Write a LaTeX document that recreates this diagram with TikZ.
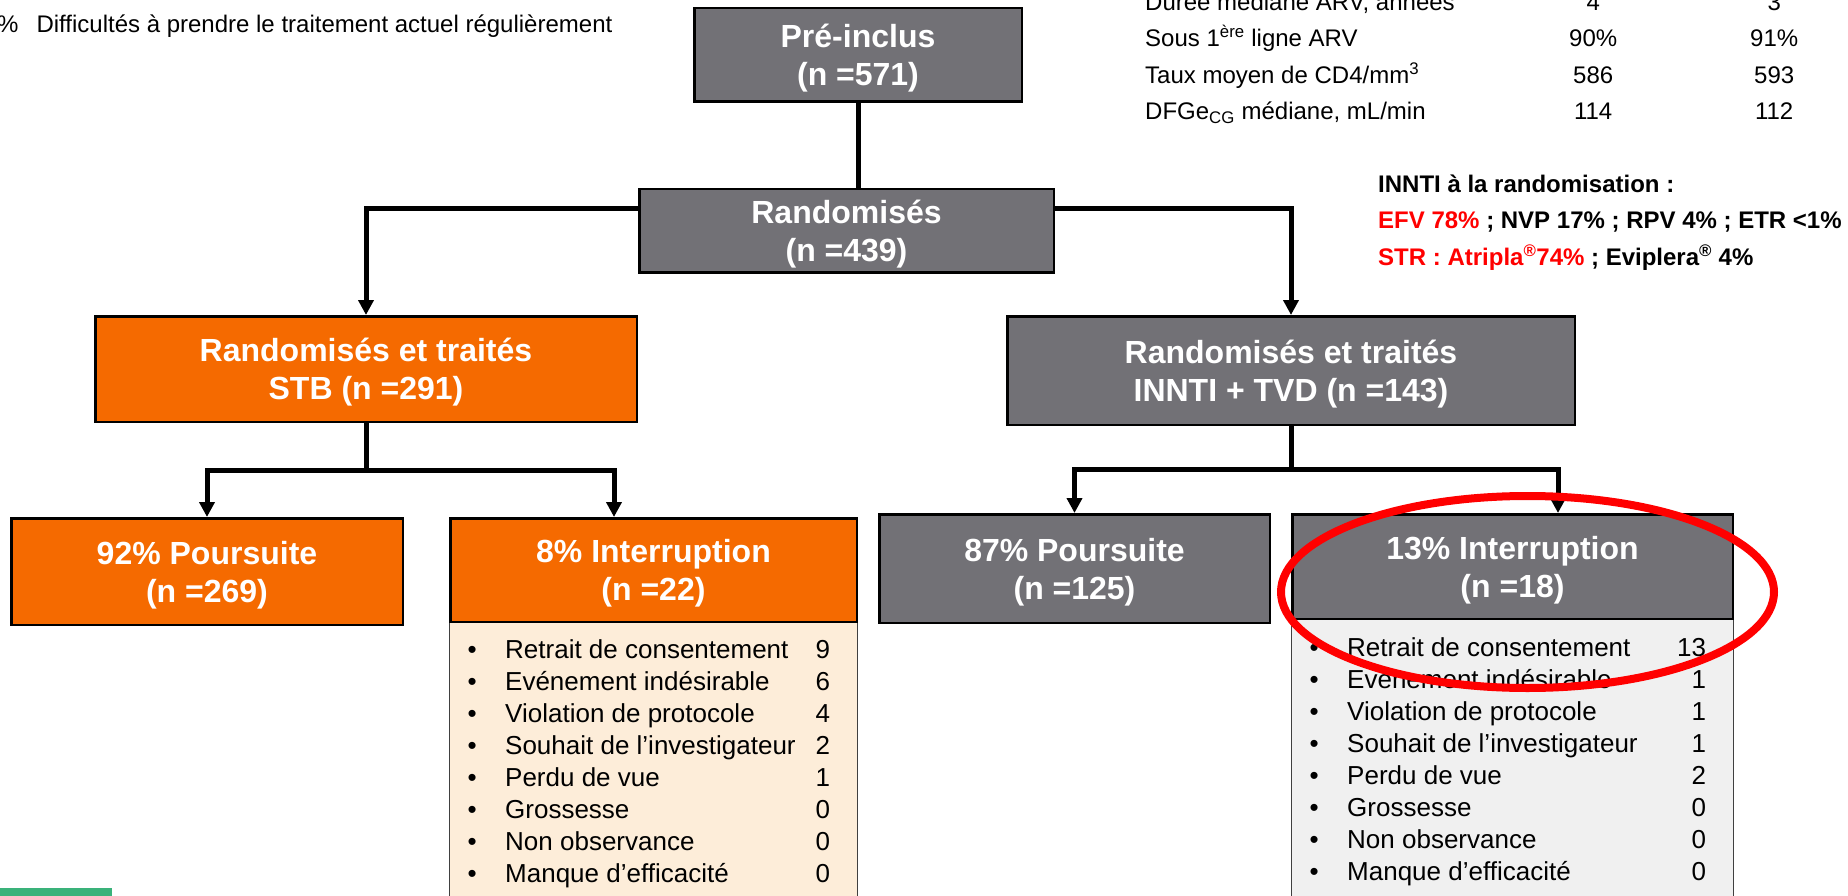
\documentclass[tikz,border=0pt]{standalone}
\usepackage{fontspec}
\setmainfont{Liberation Sans}
\usepackage{array}
\usetikzlibrary{arrows.meta}
\definecolor{boxgrey}{RGB}{114,113,118}
\definecolor{stborange}{RGB}{245,106,0}
\definecolor{peach}{RGB}{253,237,217}
\definecolor{pale}{RGB}{240,240,240}
\definecolor{alertred}{RGB}{255,0,0}
\definecolor{logogreen}{RGB}{58,178,122}

\begin{document}
\begin{tikzpicture}[x=1pt, y=-1pt,
		greybox/.style={draw=black, line width=2.5pt, fill=boxgrey, text=white, align=center,
			font=\bfseries\fontsize{32}{38}\selectfont, inner sep=0pt, text depth=-3pt},
		orangebox/.style={greybox, fill=stborange},
		panel/.style={draw=black!75, line width=1pt, anchor=north, minimum height=290pt},
		items/.style={anchor=base west, inner sep=0pt, font=\fontsize{26}{32.1}\selectfont},
		link/.style={line width=5pt},
		arrow/.style={link, -{Triangle[width=15pt,length=15pt]}}
		]
		\useasboundingbox (0,0) rectangle (1848,896);
		\clip (0,0) rectangle (1848,896);
		\fill[white] (0,0) rectangle (1848,896);
		
		\node[anchor=base west, inner sep=0pt, font=\fontsize{24}{29}\selectfont] (adherence) at (-3,32.7)
		{\%\hspace*{18pt}Difficultés à prendre le traitement actuel régulièrement};
		
		\node[anchor=base west, inner sep=0pt, font=\fontsize{24}{36.2}\selectfont] (profil) at (1145,10.7)
		{\begin{tabular}[t]{@{}p{357.5pt}@{}>{\centering\arraybackslash}p{181pt}@{}>{\centering\arraybackslash}p{181pt}@{}}
				Durée médiane ARV, années & 4 & 3\\
				Sous 1\textsuperscript{ère} ligne ARV & 90\% & 91\%\\
				Taux moyen de CD4/mm\textsuperscript{3} & 586 & 593\\
				DFGe\textsubscript{CG} médiane, mL/min & 114 & 112
		\end{tabular}};
		
		\node[anchor=base west, inner sep=0pt, font=\bfseries\fontsize{24}{36.2}\selectfont] (innti-note) at (1378,192.7)
		{\begin{tabular}[t]{@{}l@{}}
				INNTI à la randomisation :\\
				\textcolor{alertred}{EFV 78\%} ; NVP 17\% ; RPV 4\% ; ETR <1\%\\
				\textcolor{alertred}{STR : Atripla\textsuperscript{®}74\%} ; Eviplera\textsuperscript{®} 4\%
		\end{tabular}};
		
		\node[greybox, minimum width=327.5pt, minimum height=93.5pt] (pre) at (858,55) {Pré-inclus\\(n =571)};
		\node[greybox, minimum width=414.5pt, minimum height=83.5pt] (rand) at (846.5,231) {Randomisés\\(n =439)};
		\node[orangebox, minimum width=541.5pt, minimum height=105.5pt] (stb) at (366,369) {Randomisés et traités\\STB (n =291)};
		\node[greybox, minimum width=567.5pt, minimum height=108.5pt] (innti) at (1291,370.5) {Randomisés et traités\\INNTI + TVD (n =143)};
		
		\node[panel, fill=peach, minimum width=408pt] (list1) at (653.5,622) {};
		\node[panel, fill=pale, minimum width=442pt] (list2) at (1512.5,619) {};
		
		\node[orangebox, minimum width=391.5pt, minimum height=106.5pt] (pours1) at (207,571.5) {92\% Poursuite\\(n =269)};
		\node[orangebox, minimum width=406.5pt, minimum height=103.5pt] (inter1) at (653.5,570) {8\% Interruption\\(n =22)};
		\node[greybox, minimum width=390.5pt, minimum height=108.5pt] (pours2) at (1074.5,568.5) {87\% Poursuite\\(n =125)};
		\node[greybox, minimum width=440.5pt, minimum height=104.5pt] (inter2) at (1512.5,566.5) {13\% Interruption\\(n =18)};
		
		\node[items] (items1) at (467.5,658)
		{\begin{tabular}[t]{@{}p{37.5pt}@{}p{310.5pt}@{}r@{}}
				\textbullet & Retrait de consentement & 9\\
				\textbullet & Evénement indésirable & 6\\
				\textbullet & Violation de protocole & 4\\
				\textbullet & Souhait de l’investigateur & 2\\
				\textbullet & Perdu de vue & 1\\
				\textbullet & Grossesse & 0\\
				\textbullet & Non observance & 0\\
				\textbullet & Manque d’efficacité & 0
		\end{tabular}};
		\node[items] (items2) at (1309.5,656)
		{\begin{tabular}[t]{@{}p{37.5pt}@{}p{330pt}@{}r@{}}
				\textbullet & Retrait de consentement & 13\\
				\textbullet & Evénement indésirable & 1\\
				\textbullet & Violation de protocole & 1\\
				\textbullet & Souhait de l’investigateur & 1\\
				\textbullet & Perdu de vue & 2\\
				\textbullet & Grossesse & 0\\
				\textbullet & Non observance & 0\\
				\textbullet & Manque d’efficacité & 0
		\end{tabular}};
		
		\draw[link] (pre) -- (pre |- rand.north);
		\draw[arrow] ([yshift=22pt]rand.west) -| (stb.north);
		\draw[arrow] ([yshift=22pt]rand.east) -| (innti.north);
		\draw[arrow] (stb.south) -- ++(0,47) -| (pours1.north);
		\draw[arrow] (stb.south) -- ++(0,47) -| ([xshift=-39.5pt]inter1.north);
		\draw[arrow] (innti.south) -- ++(0,43) -| (pours2.north);
		\draw[arrow] (innti.south) -- ++(0,43) -| ([xshift=45.5pt]inter2.north);
		
		\fill[logogreen] (0,888) rectangle (112,896);
		\draw[alertred, line width=8pt] (1527.5,592) ellipse [x radius=246.5pt, y radius=96pt];
	\end{tikzpicture}
\end{document}
